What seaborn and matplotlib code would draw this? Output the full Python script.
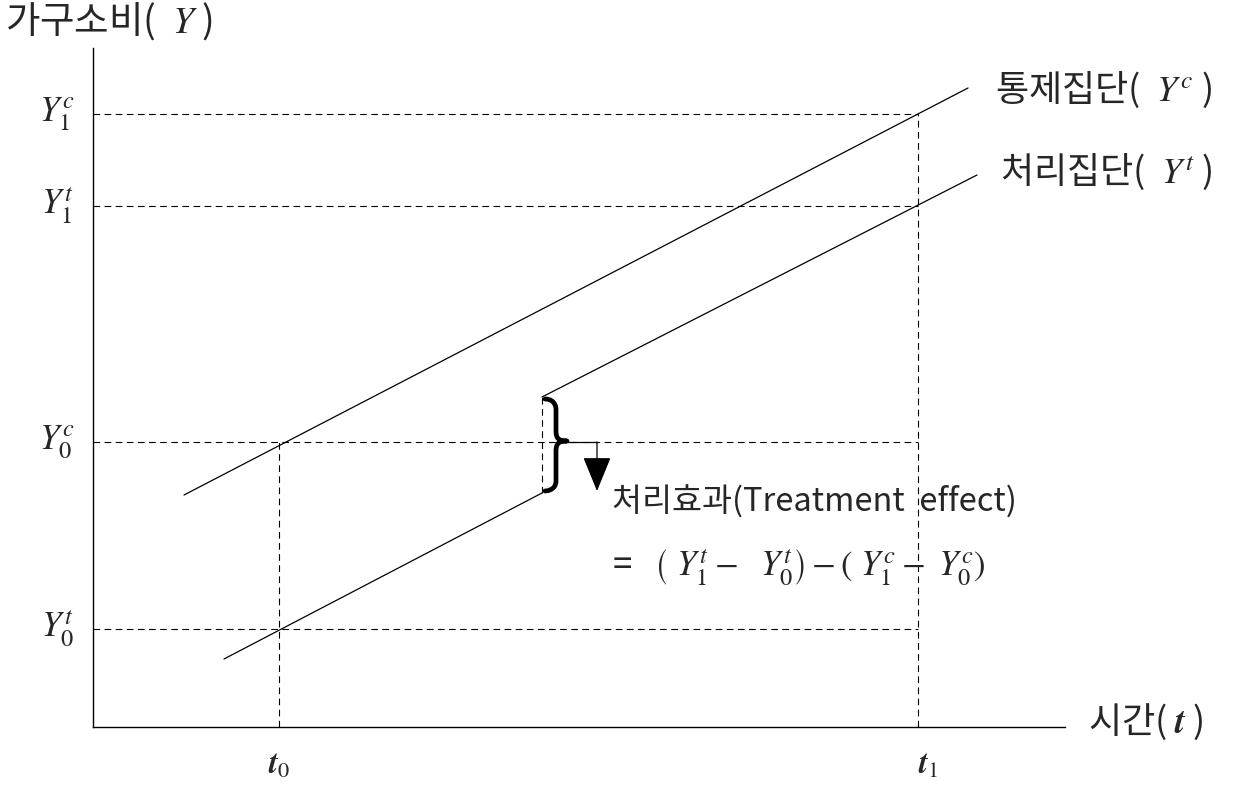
import numpy as np
import pandas as pd
import matplotlib
matplotlib.use("Agg")
import matplotlib.pyplot as plt
import seaborn as sns
from matplotlib.path import Path
from matplotlib.patches import PathPatch, FancyArrowPatch

# ---- data (units: time on x, household consumption on y) ----
t0, t1 = 1.86, 8.25
Y0t, Y0c, Y1t, Y1c = 0.98, 2.85, 5.21, 6.13
t_break = 4.49

control_x = [0.91, 8.75]
control_y = [2.32, 6.39]
treat_pre_x = [1.31, 4.49]
treat_pre_y = [0.68, 2.34]
treat_post_x = [4.49, 8.84]
treat_post_y = [3.30, 5.52]

y_levels = [Y1c, Y1t, Y0c, Y0t]
y_tick_labels = [r"$Y_1^{c}$", r"$Y_1^{t}$", r"$Y_0^{c}$", r"$Y_0^{t}$"]
t_levels = [t0, t1]
t_tick_labels = [r"$\mathbfit{t}_{0}$", r"$\mathbfit{t}_{1}$"]

y_axis_label = "가구소비(  $Y$ )"
x_axis_label = "시간( $\\mathbfit{t}$ )"
control_label = "통제집단(  $Y^{c}$ )"
treat_label = "처리집단(  $Y^{t}$ )"
effect_label = "처리효과(Treatment  effect)"
effect_formula = (r"=   $\left(\ Y_1^{t}-\ \ Y_0^{t}\right)-\left(\ Y_1^{c}-\ Y_0^{c}\right)$")

sns.set_theme(style="white")
plt.rcParams["font.family"] = ["Noto Sans CJK KR", "DejaVu Sans"]
plt.rcParams["mathtext.fontset"] = "stix"

fig = plt.figure(figsize=(12.53, 8.07), dpi=100)
ax = fig.add_axes([93/1253, 80/807, 972/1253, 679/807])
ax.set_xlim(0, 9.72)
ax.set_ylim(0, 6.79)
for s in ["top", "right"]:
    ax.spines[s].set_visible(False)
for s in ["left", "bottom"]:
    ax.spines[s].set_color("black")
    ax.spines[s].set_linewidth(1.0)
ax.set_xticks([])
ax.set_yticks([])

lines = pd.DataFrame({
    "x": control_x + treat_pre_x + treat_post_x,
    "y": control_y + treat_pre_y + treat_post_y,
    "seg": ["c"] * 2 + ["t_pre"] * 2 + ["t_post"] * 2,
})
sns.lineplot(data=lines, x="x", y="y", units="seg", estimator=None,
             color="black", linewidth=0.9, ax=ax, sort=False)
ax.set_xlabel("")
ax.set_ylabel("")

dash = dict(color="black", linewidth=0.8, dashes=(6, 4))
for yv in y_levels:
    ax.plot([0, t1], [yv, yv], **dash)
ax.plot([t0, t0], [0, Y0c], **dash)
ax.plot([t1, t1], [0, Y1c], **dash)
ax.plot([t_break, t_break], [treat_pre_y[1], treat_post_y[0]], **dash)

# brace
x0 = t_break + 0.03
w = 0.11
yt = treat_post_y[0] - 0.02
yb = treat_pre_y[1] + 0.02
ym = (yt + yb) / 2 + 0.04
r = 0.10
verts = [
    (x0, yt),
    (x0 + w, yt), (x0 + w, yt - r), (x0 + w, yt - r),
    (x0 + w, ym + r),
    (x0 + w, ym + 0.02), (x0 + w * 1.3, ym), (x0 + 2 * w, ym),
    (x0 + w * 1.3, ym), (x0 + w, ym - 0.02), (x0 + w, ym - r),
    (x0 + w, yb + r),
    (x0 + w, yb), (x0, yb), (x0, yb),
]
codes = [Path.MOVETO,
         Path.CURVE4, Path.CURVE4, Path.CURVE4,
         Path.LINETO,
         Path.CURVE4, Path.CURVE4, Path.CURVE4,
         Path.CURVE4, Path.CURVE4, Path.CURVE4,
         Path.LINETO,
         Path.CURVE4, Path.CURVE4, Path.CURVE4]
ax.add_patch(PathPatch(Path(verts, codes), fill=False, lw=3.4, color="black",
                       capstyle="round", joinstyle="round"))

# arrow
ax_x = x0 + 2 * w
ax_arrow_x = 5.04
ax.plot([ax_x, ax_arrow_x], [Y0c, Y0c], color="black", lw=0.9)
ax.add_patch(FancyArrowPatch((ax_arrow_x, Y0c), (ax_arrow_x, 2.36),
                             arrowstyle="-|>,head_length=1.1,head_width=0.45",
                             mutation_scale=20, color="black", lw=0.9,
                             shrinkA=0, shrinkB=0))

# texts
fs = 26
for yv, lab in zip(y_levels, y_tick_labels):
    ax.text(-0.36, yv, lab, fontsize=25, ha="center", va="center", clip_on=False)
for tv, lab, dx in zip(t_levels, t_tick_labels, [0.0, 0.1]):
    ax.text(tv + dx, -0.38, lab, fontsize=23, ha="center", va="center", clip_on=False)

ax.text(-0.88, 7.06, y_axis_label, fontsize=27, ha="left", va="center", clip_on=False)
ax.text(9.95, 0.05, x_axis_label, fontsize=fs, ha="left", va="center", clip_on=False)
ax.text(9.02, 6.37, control_label, fontsize=fs, ha="left", va="center", clip_on=False)
ax.text(9.07, 5.55, treat_label, fontsize=fs, ha="left", va="center", clip_on=False)
ax.text(5.19, 2.25, effect_label, fontsize=23.5, ha="left", va="center", clip_on=False)
ax.text(5.19, 1.59, effect_formula, fontsize=25, ha="left", va="center", clip_on=False)

fig.savefig("out.png", dpi=100, facecolor="white")
